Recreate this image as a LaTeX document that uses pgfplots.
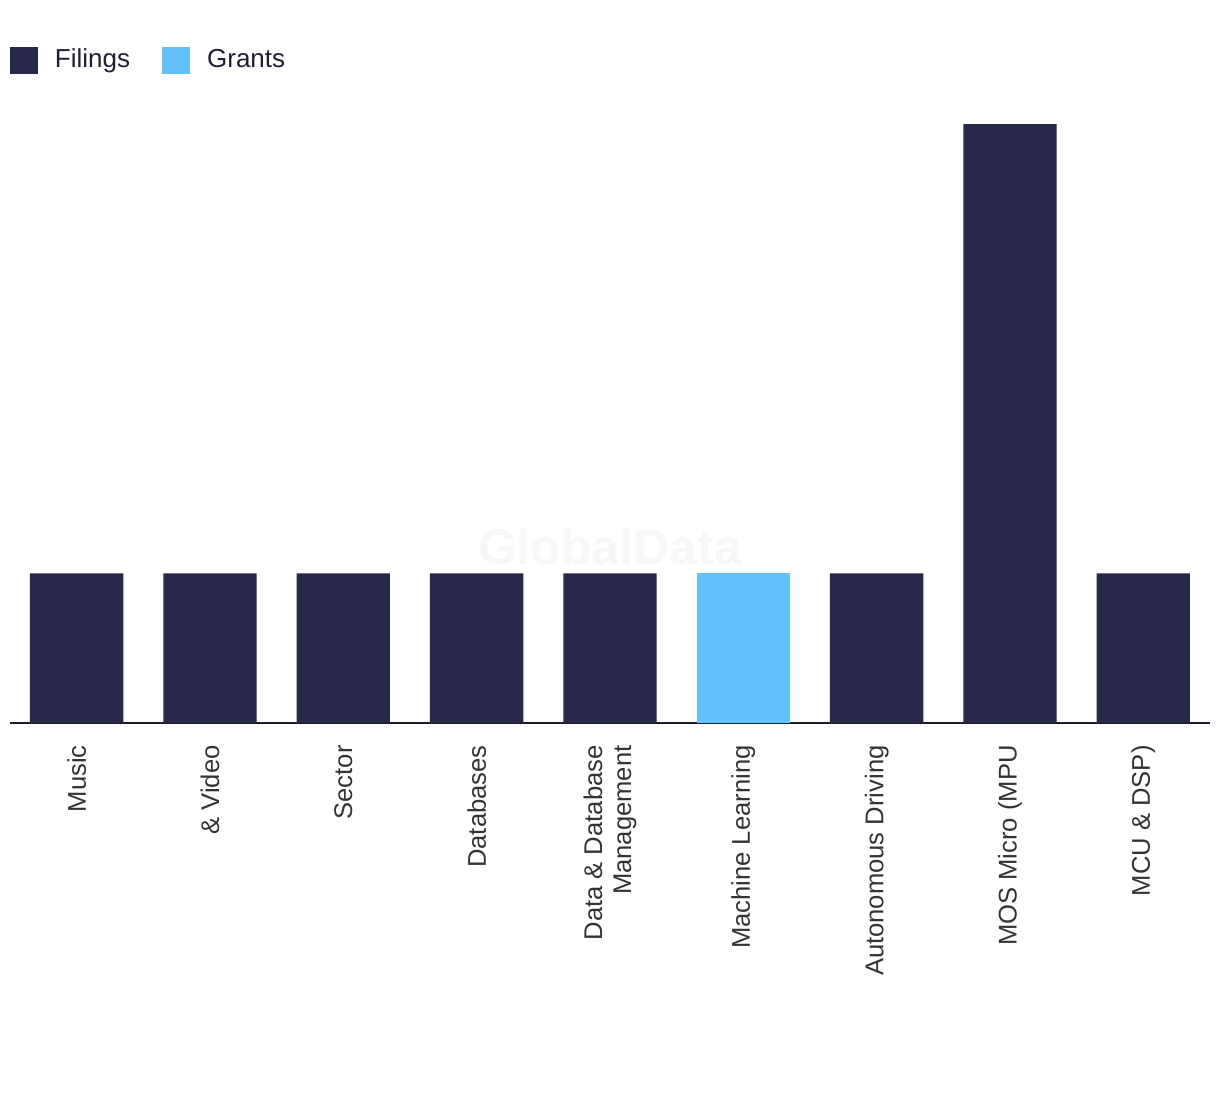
\documentclass[border=0pt]{standalone}
\usepackage{pgfplots}
\pgfplotsset{compat=1.18}
\usepackage{fontspec}
\setmainfont{Liberation Sans}
\definecolor{navy}{HTML}{272849}
\definecolor{sky}{HTML}{63C1F9}
\definecolor{lbl}{HTML}{333333}
\definecolor{legtxt}{HTML}{1F1F33}
\definecolor{axln}{HTML}{1C1C2C}
\definecolor{wm}{HTML}{F7F7F7}
\begin{document}
\begin{tikzpicture}
\useasboundingbox (0,0) rectangle (610pt,547pt);
\begin{axis}[
  at={(5pt,185.5pt)}, anchor=south west,
  scale only axis, width=600pt, height=299.5pt,
  xmin=-0.5, xmax=8.5, ymin=0, ymax=4,
  clip=false,
  ybar, bar width=0.7, bar shift=0pt,
  hide y axis,
  axis x line*=bottom,
  x axis line style={draw=axln, line width=1pt},
  xtick={0,...,8},
  xticklabels={Music,\& Video,Sector,Databases,{Data \& Database\\Management},Machine Learning,Autonomous Driving,MOS Micro (MPU,MCU \& DSP)},
  major tick length=0pt,
  xticklabel style={rotate=90, anchor=east, inner xsep=11pt, inner ysep=0pt, align=right, text=lbl, font=\fontsize{12.8}{14.5}\selectfont},
  legend columns=2,
  legend style={draw=none, fill=none, at={(axis description cs:0,1.1068)}, anchor=west, inner sep=0pt, outer sep=0pt,
    nodes={inner sep=0pt, text=legtxt, font=\fontsize{13}{15}\selectfont},
    /tikz/every odd column/.append style={column sep=8.5pt},
    /tikz/every even column/.append style={column sep=16pt}},
  legend image code/.code={\fill[#1] (0pt,-6.75pt) rectangle (14pt,6.75pt);},
]
\node[font=\bfseries\fontsize{25}{25}\selectfont, text=wm] at (axis description cs:0.5,0.294) {GlobalData};
\addplot[fill=navy, draw=none] coordinates {(0,1) (1,1) (2,1) (3,1) (4,1) (6,1) (7,4) (8,1)};
\addlegendentry{Filings}
\addplot[fill=sky, draw=none] coordinates {(5,1)};
\addlegendentry{Grants}
\end{axis}
\end{tikzpicture}
\end{document}
